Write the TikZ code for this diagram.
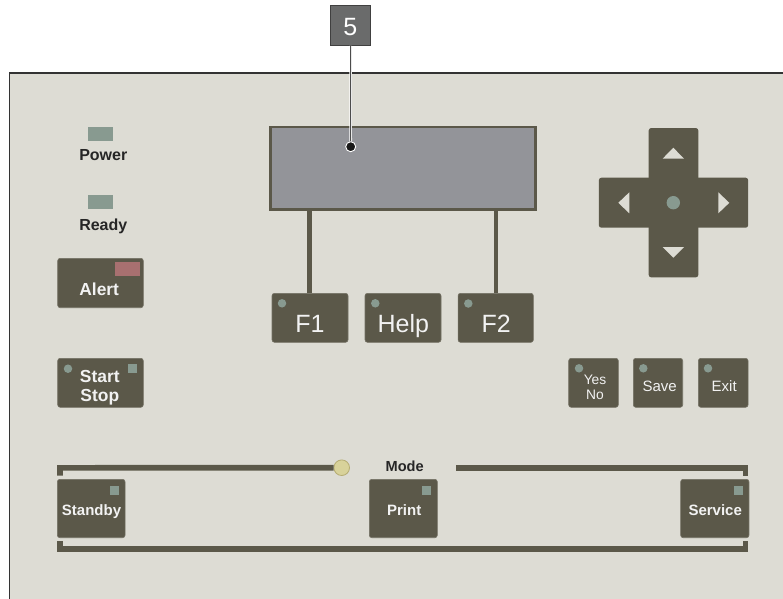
\documentclass[tikz,border=0pt]{standalone}
\usepackage{fontspec}
\setmainfont{Liberation Sans}
\definecolor{panel}{HTML}{DDDCD4}
\definecolor{btn}{HTML}{5B5849}
\definecolor{led}{HTML}{889A90}
\definecolor{ledred}{HTML}{A87070}
\definecolor{disp}{HTML}{939499}
\definecolor{modec}{HTML}{D8D29A}
\definecolor{modeb}{HTML}{B5AC72}
\definecolor{lblc}{HTML}{6A6B6B}
\definecolor{btntext}{HTML}{F2F2F2}
\tikzset{
  btn/.style={rectangle, fill=btn, draw=btn!85!white, line width=0.6pt, rounded corners=2.5pt, inner sep=0pt},
  ledsq/.style={rectangle, fill=led, inner sep=0pt},
  leddot/.style={circle, fill=led, inner sep=0pt, minimum size=8.5pt},
  stem/.style={draw=btn, line width=4.5pt},
  rail/.style={draw=btn, line width=5.6pt, line join=miter},
  btxt/.style={inner sep=0pt, anchor=base, text=btntext, font=\bfseries\fontsize{17.4}{18}\selectfont},
  btxtm/.style={inner sep=0pt, anchor=base, text=btntext, font=\bfseries\fontsize{15}{16}\selectfont},
  ftxt/.style={inner sep=0pt, anchor=base, text=btntext, font=\fontsize{25}{26}\selectfont},
  stxt/.style={inner sep=0pt, anchor=base, text=btntext, font=\fontsize{15}{16}\selectfont},
  ltxt/.style={inner sep=0pt, anchor=base, text=black!85, font=\bfseries\fontsize{16}{17}\selectfont},
}
\begin{document}
\begin{tikzpicture}[x=1pt,y=-1pt]
\useasboundingbox (0,0) rectangle (783,598);
\fill[white] (0,0) rectangle (783,598);
% panel
\draw[fill=panel, draw=black!80, line width=1.3pt] (9.5,73) rectangle (800,620);

% LEDs Power / Ready
\node[ledsq, minimum width=25pt, minimum height=14pt] (powerled) at (100.5,134) {};
\node[ltxt] (power) at (103.3,160.7) {Power};
\node[ledsq, minimum width=25pt, minimum height=14pt] (readyled) at (100.5,202) {};
\node[ltxt] (ready) at (103.3,230.5) {Ready};

% Alert
\node[btn, minimum width=85.6pt, minimum height=49.4pt] (alert) at (100.5,283) {};
\node[rectangle, fill=ledred, inner sep=0pt, minimum width=25pt, minimum height=13.7pt] (alertled) at (127.5,268.8) {};
\node[btxt] (alerttxt) at (99.2,295) {Alert};

% Start / Stop
\node[btn, minimum width=85.6pt, minimum height=49pt] (start) at (100.5,382.8) {};
\node[leddot] (startdot) at (68,368.7) {};
\node[ledsq, minimum width=9pt, minimum height=8.4pt] (startled) at (132.5,368.5) {};
\node[btxt] (starttxt) at (99.8,382.5) {Start};
\node[btxt] (stoptxt) at (99.8,401) {Stop};

% Display
\node[rectangle, fill=disp, draw=btn, line width=2.6pt, minimum width=265.2pt, minimum height=82.8pt, inner sep=0pt] (display) at (402.85,168.35) {};

% F keys
\node[btn, minimum width=76pt, minimum height=49pt] (f1) at (310,317.8) {};
\node[btn, minimum width=76pt, minimum height=49pt] (help) at (403,317.8) {};
\node[btn, minimum width=75.3pt, minimum height=49pt] (f2) at (495.7,317.8) {};
\draw[stem] (f1.north -| 309.3,0) -- (display.south -| 309.3,0);
\draw[stem] (f2.north -| 496,0) -- (display.south -| 496,0);
\node[leddot] (f1dot) at (282,303.3) {};
\node[leddot] (helpdot) at (375.3,303.3) {};
\node[leddot] (f2dot) at (468.3,303.5) {};
\node[ftxt] (f1txt) at (310,332.3) {F1};
\node[ftxt] (helptxt) at (403.3,332.3) {Help};
\node[ftxt] (f2txt) at (496.3,332.3) {F2};

% callout
\node[circle, fill=black!90, draw=white, line width=0.9pt, inner sep=0pt, minimum size=10pt] (dot) at (350.7,146.7) {};
\node[rectangle, fill=lblc, draw=black!75, line width=0.9pt, minimum width=40pt, minimum height=40pt, inner sep=0pt] (lbl) at (350.5,25.3) {};
\draw[white, line width=2.6pt] (lbl.south) -- (dot.north);
\draw[black!70, line width=1pt] (lbl.south) -- (dot.north);
\node[inner sep=0pt, anchor=base, text=white, font=\fontsize{25}{26}\selectfont] (lbltxt) at (350.3,35) {5};

% D-pad
\node[rectangle, fill=btn, rounded corners=2.5pt, inner sep=0pt, minimum width=49.6pt, minimum height=149.3pt] (dpadv) at (673.5,202.7) {};
\node[rectangle, fill=btn, rounded corners=2.5pt, inner sep=0pt, minimum width=149.3pt, minimum height=50pt] (dpadh) at (673.5,202.7) {};
\node[circle, fill=led, inner sep=0pt, minimum size=13.4pt] (dpadc) at (673.3,202.7) {};
\fill[panel] (662.6,158.7) -- (684,158.7) -- (673.3,147.7) -- cycle;
\fill[panel] (662.6,247) -- (684,247) -- (673.3,257.7) -- cycle;
\fill[panel] (629.3,192.3) -- (629.3,213.3) -- (618.3,202.8) -- cycle;
\fill[panel] (718.3,192.3) -- (718.3,213.3) -- (729.3,202.8) -- cycle;

% Yes/No, Save, Exit
\node[btn, minimum width=49.6pt, minimum height=49pt] (yesno) at (593.5,382.8) {};
\node[btn, minimum width=49.4pt, minimum height=49pt] (save) at (658,382.8) {};
\node[btn, minimum width=49.7pt, minimum height=49pt] (exit) at (723.2,382.8) {};
\node[leddot] (yesdot) at (579,368.3) {};
\node[leddot] (savedot) at (643.3,368.3) {};
\node[leddot] (exitdot) at (708,368.3) {};
\node[stxt, font=\fontsize{13.8}{14}\selectfont] (yestxt) at (595,384.3) {Yes};
\node[stxt, font=\fontsize{13.8}{14}\selectfont] (notxt) at (595,399) {No};
\node[stxt] (savetxt) at (659.7,391) {Save};
\node[stxt] (exittxt) at (724.2,391) {Exit};

% Mode rails
\node[circle, fill=modec, draw=modeb, line width=0.8pt, inner sep=0pt, minimum size=15.6pt] (modesel) at (341.7,467.7) {};
\coordinate (tl) at (60,475.7);
\coordinate (tr) at (745.6,475.7);
\coordinate (bl) at (60,541);
\coordinate (br) at (745.6,541);
\draw[rail] (tl) -- (60,467.8) -- (modesel.west);
\draw[rail] (456,467.8) -- (745.6,467.8) -- (tr);
\draw[rail] (bl) -- (60,548.8) -- (745.6,548.8) -- (br);
\node[ltxt, font=\bfseries\fontsize{14.6}{15}\selectfont] (mode) at (404.7,471.7) {Mode};

% Mode buttons
\node[btn, minimum width=67.7pt, minimum height=58.4pt] (standby) at (91.2,508.5) {};
\node[btn, minimum width=68pt, minimum height=58.4pt] (print) at (403.3,508.5) {};
\node[btn, minimum width=68.3pt, minimum height=58.4pt] (service) at (714.8,508.5) {};
\node[ledsq, minimum width=9pt, minimum height=8.7pt] (standbyled) at (114.5,490.3) {};
\node[ledsq, minimum width=8.7pt, minimum height=8.7pt] (printled) at (426.6,490.3) {};
\node[ledsq, minimum width=9pt, minimum height=8.7pt] (serviceled) at (738.5,490.3) {};
\node[btxtm] (standbytxt) at (91.5,515) {Standby};
\node[btxtm] (printtxt) at (404.2,515) {Print};
\node[btxtm] (servicetxt) at (715.2,515) {Service};
\end{tikzpicture}
\end{document}
